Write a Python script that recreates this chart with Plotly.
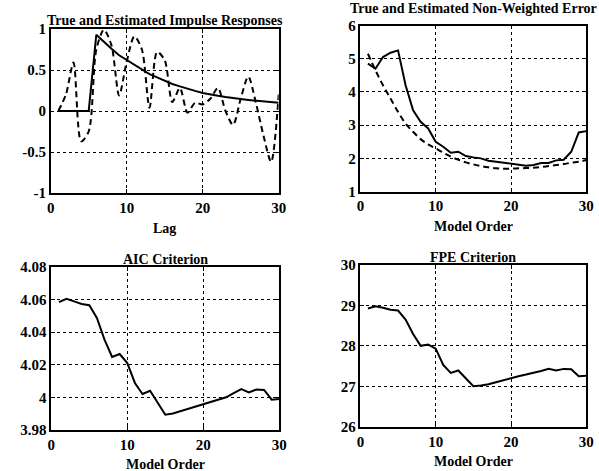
import plotly.graph_objects as go

# ---------------- data ----------------
lags = list(range(1, 31))
true_impulse = [0, 0, 0, 0, 0, 0.93, 0.84, 0.76, 0.68, 0.62, 0.56, 0.50, 0.45, 0.41, 0.37,
                0.33, 0.30, 0.27, 0.245, 0.22, 0.20, 0.185, 0.17, 0.155, 0.145, 0.135,
                0.125, 0.115, 0.108, 0.10]
est_impulse = [0, 0.2, 0.59, -0.37, -0.25, 0.75, 0.99, 0.8, 0.19, 0.6, 0.91, 0.75, 0.04,
               0.72, 0.62, 0.11, 0.28, -0.02, 0.1, 0.08, 0.15, 0.28, 0.0, -0.17, 0.15,
               0.42, 0.1, -0.3, -0.62, 0.2]

orders = list(range(1, 31))
err_est = [4.85, 4.7, 5.05, 5.18, 5.25, 4.2, 3.45, 3.1, 2.9, 2.5, 2.35, 2.17, 2.2, 2.07,
           2.03, 2.0, 1.93, 1.9, 1.87, 1.84, 1.82, 1.78, 1.8, 1.86, 1.86, 1.94, 1.96,
           2.2, 2.78, 2.82]
err_true = [5.15, 4.65, 4.2, 3.8, 3.4, 3.05, 2.8, 2.58, 2.42, 2.3, 2.17, 2.05, 1.96, 1.88,
            1.82, 1.77, 1.73, 1.7, 1.69, 1.69, 1.7, 1.71, 1.72, 1.74, 1.77, 1.8, 1.83,
            1.87, 1.9, 1.95]

aic = [4.0585, 4.0605, 4.059, 4.0574, 4.0566, 4.0488, 4.0355, 4.0248, 4.0266, 4.021,
       4.0088, 4.002, 4.004, 3.9965, 3.9893, 3.990, 3.9914, 3.9928, 3.9942, 3.9956,
       3.997, 3.9985, 4.0, 4.0026, 4.005, 4.003, 4.0048, 4.0045, 3.9985, 3.999]
fpe = [28.92, 28.975, 28.94, 28.89, 28.87, 28.65, 28.29, 28.0, 28.03, 27.93, 27.53, 27.33,
       27.39, 27.19, 27.0, 27.02, 27.05, 27.1, 27.15, 27.21, 27.25, 27.29, 27.33, 27.38,
       27.43, 27.39, 27.43, 27.42, 27.25, 27.26]

x_ticks = [0, 10, 20, 30]
x_ticktext = ["0", "10", "20", "30"]
y1_ticks = [-1, -0.5, 0, 0.5, 1]
y1_text = ["-1", "-0.5", "0", "0.5", "1"]
y2_ticks = [1, 2, 3, 4, 5, 6]
y2_text = ["1", "2", "3", "4", "5", "6"]
y3_ticks = [3.98, 4.0, 4.02, 4.04, 4.06, 4.08]
y3_text = ["3.98", "4", "4.02", "4.04", "4.06", "4.08"]
y4_ticks = [26, 27, 28, 29, 30]
y4_text = ["26", "27", "28", "29", "30"]

titles = ["True and Estimated Impulse Responses", "True and Estimated Non-Weighted Error",
          "AIC Criterion", "FPE Criterion"]
xlabels = ["Lag", "Model Order", "Model Order", "Model Order"]

# ---------------- figure ----------------
W, H = 599, 471
FONT = "Liberation Serif, Times New Roman, serif"
fig = go.Figure()

solid = dict(color="black", width=2)
dashed = dict(color="black", width=2, dash="6px,4px")

fig.add_trace(go.Scatter(x=lags, y=true_impulse, mode="lines", line=solid, xaxis="x", yaxis="y"))
fig.add_trace(go.Scatter(x=lags, y=est_impulse, mode="lines", line=dict(dashed, shape="spline", smoothing=0.8),
                         xaxis="x", yaxis="y"))
fig.add_trace(go.Scatter(x=orders, y=err_est, mode="lines", line=solid, xaxis="x2", yaxis="y2"))
fig.add_trace(go.Scatter(x=orders, y=err_true, mode="lines", line=dict(dashed, shape="spline"),
                         xaxis="x2", yaxis="y2"))
fig.add_trace(go.Scatter(x=orders, y=aic, mode="lines", line=solid, xaxis="x3", yaxis="y3"))
fig.add_trace(go.Scatter(x=orders, y=fpe, mode="lines", line=solid, xaxis="x4", yaxis="y4"))

def px_x(p):
    return p / W

def px_y(p):
    return 1 - p / H

# pixel boxes: (left, right, top, bottom)
boxes = [(50.7, 278.7, 29.0, 193.0),
         (360.4, 586.3, 25.5, 191.6),
         (51.3, 279.3, 267.2, 429.8),
         (360.4, 586.3, 264.8, 426.8)]
title_gap = [8, 16.5, 8, 7]
yranges = [[-1, 1], [1, 6], [3.98, 4.08], [26, 30]]
yticks = [(y1_ticks, y1_text), (y2_ticks, y2_text), (y3_ticks, y3_text), (y4_ticks, y4_text)]

tickfont = dict(family=FONT, size=15, color="black", weight="bold")
layout = dict(width=W, height=H, margin=dict(l=0, r=0, t=0, b=0), template="none",
              showlegend=False, paper_bgcolor="white", plot_bgcolor="white")

annotations = []
for i, (l, r, t, b) in enumerate(boxes):
    sfx = "" if i == 0 else str(i + 1)
    common = dict(showline=True, linecolor="black", linewidth=1.5, mirror="ticks",
                  ticks="inside", ticklen=4, tickcolor="black", tickwidth=1,
                  showgrid=True, gridcolor="black", gridwidth=1, griddash="dot",
                  zeroline=False, automargin=False, tickfont=tickfont)
    layout["xaxis" + sfx] = dict(common, domain=[px_x(l), px_x(r)], range=[0, 30],
                                 tickvals=x_ticks, ticktext=x_ticktext,
                                 anchor="y" + sfx)
    layout["yaxis" + sfx] = dict(common, domain=[px_y(b), px_y(t)], range=yranges[i],
                                 tickvals=yticks[i][0], ticktext=yticks[i][1],
                                 anchor="x" + sfx)
    cx = px_x((l + r) / 2)
    annotations.append(dict(text=titles[i], x=cx, y=px_y(t - title_gap[i]), xref="paper", yref="paper",
                            xanchor="center", yanchor="middle", showarrow=False,
                            font=dict(family=FONT, size=14, color="black", weight="bold")))
    annotations.append(dict(text=xlabels[i], x=cx, y=px_y(b + 35), xref="paper", yref="paper",
                            xanchor="center", yanchor="middle", showarrow=False,
                            font=dict(family=FONT, size=14, color="black", weight="bold")))

layout["annotations"] = annotations
fig.update_layout(**layout)
fig.write_html("out.html")
